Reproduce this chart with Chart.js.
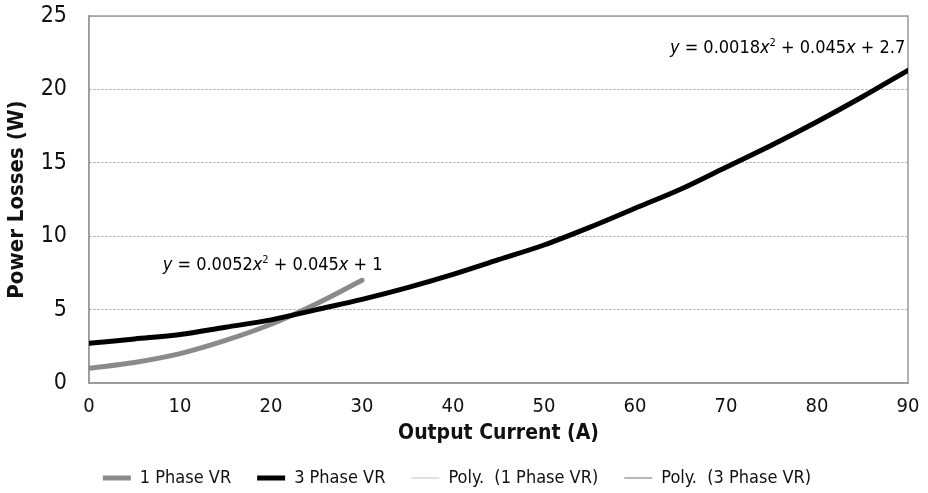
<!DOCTYPE html>
<html>
<head>
<meta charset="utf-8">
<script src="https://cdn.jsdelivr.net/npm/chart.js@4/dist/chart.umd.min.js"></script>
<style>
  html, body { margin: 0; padding: 0; background: #fff; }
  #wrap { width: 928px; height: 493px; position: relative; }
</style>
</head>
<body>
<div id="wrap"><canvas id="c" width="928" height="493"></canvas></div>
<script>
// ---- data ----
const current1 = [0, 5, 10, 15, 20, 25, 30];
const loss1Phase = [1.0, 1.4, 2.0, 2.9, 4.0, 5.4, 7.0];
const current3 = [0, 5, 10, 15, 20, 25, 30, 35, 40, 45, 50, 55, 60, 65, 70, 75, 80, 85, 90];
const loss3Phase = [2.7, 3.0, 3.3, 3.8, 4.3, 5.0, 5.7, 6.5, 7.4, 8.4, 9.4, 10.6, 11.9, 13.2, 14.7, 16.2, 17.8, 19.5, 21.3];
const seriesNames = ['1 Phase VR', '3 Phase VR', 'Poly.  (1 Phase VR)', 'Poly.  (3 Phase VR)'];
const xTicks = [0, 10, 20, 30, 40, 50, 60, 70, 80, 90];
const yTicks = [0, 5, 10, 15, 20, 25];
const eq1Text = ['y', ' = 0.0052', 'x', '2', ' + 0.045', 'x', ' + 1'];
const eq3Text = ['y', ' = 0.0018', 'x', '2', ' + 0.045', 'x', ' + 2.7'];

const FONT = "'Liberation Sans Narrow', 'DejaVu Sans Condensed', 'Roboto Condensed', Arial, sans-serif";

function pts(xs, ys) { return xs.map((x, i) => ({ x: x, y: ys[i] })); }

const boxPlugin = {
  id: 'box',
  beforeDatasetsDraw(chart) {
    const a = chart.chartArea, ctx = chart.ctx;
    ctx.save();
    ctx.strokeStyle = '#9a9a9a';
    ctx.lineWidth = 1.5;
    ctx.strokeRect(a.left, a.top, a.right - a.left, a.bottom - a.top);
    ctx.restore();
  }
};

function drawEq(ctx, parts, x, y, align) {
  const size = 18;
  const fonts = [
    'italic ' + size + 'px ' + FONT,
    size + 'px ' + FONT,
    'italic ' + size + 'px ' + FONT,
    Math.round(size * 0.6) + 'px ' + FONT,
    size + 'px ' + FONT,
    'italic ' + size + 'px ' + FONT,
    size + 'px ' + FONT
  ];
  let w = 0;
  const widths = parts.map((p, i) => { ctx.font = fonts[i]; const m = ctx.measureText(p).width; w += m; return m; });
  let cx = align === 'right' ? x - w : x;
  ctx.fillStyle = '#000';
  ctx.textBaseline = 'alphabetic';
  ctx.textAlign = 'left';
  parts.forEach((p, i) => {
    ctx.font = fonts[i];
    ctx.fillText(p, cx, i === 3 ? y - 7 : y);
    cx += widths[i];
  });
}

const eqPlugin = {
  id: 'eq',
  afterDatasetsDraw(chart) {
    const ctx = chart.ctx, xs = chart.scales.x, ys = chart.scales.y;
    ctx.save();
    drawEq(ctx, eq3Text, xs.getPixelForValue(89.7), ys.getPixelForValue(22.47), 'right');
    drawEq(ctx, eq1Text, xs.getPixelForValue(8.1), ys.getPixelForValue(7.72), 'left');
    ctx.restore();
  }
};

new Chart(document.getElementById('c'), {
  type: 'line',
  data: {
    datasets: [
      { label: seriesNames[0], data: pts(current1, loss1Phase), borderColor: '#8a8a8a', backgroundColor: '#8a8a8a',
        borderWidth: 5, pointRadius: 0, cubicInterpolationMode: 'monotone', borderCapStyle: 'round', order: 1, pointStyle: 'line' },
      { label: seriesNames[1], data: pts(current3, loss3Phase), borderColor: '#000', backgroundColor: '#000',
        borderWidth: 5, pointRadius: 0, cubicInterpolationMode: 'monotone', borderCapStyle: 'round', order: 0, pointStyle: 'line' },
      { label: seriesNames[2], data: pts(current1, loss1Phase), borderColor: '#c4c4c4', backgroundColor: '#c4c4c4',
        borderWidth: 1, pointRadius: 0, cubicInterpolationMode: 'monotone', order: 5, pointStyle: 'line' },
      { label: seriesNames[3], data: pts(current3, loss3Phase), borderColor: '#6e6e6e', backgroundColor: '#6e6e6e',
        borderWidth: 1, pointRadius: 0, cubicInterpolationMode: 'monotone', order: 6, pointStyle: 'line' }
    ]
  },
  options: {
    responsive: false,
    animation: false,
    devicePixelRatio: 1,
    layout: { padding: { top: 0, right: 14, left: 0, bottom: -4 } },
    plugins: {
      legend: {
        position: 'bottom',
        labels: {
          usePointStyle: true,
          pointStyleWidth: 28,
          boxHeight: 5,
          padding: 26,
          color: '#111',
          font: { family: FONT, size: 18 },
          sort: (a, b) => a.datasetIndex - b.datasetIndex
        }
      },
      tooltip: { enabled: false }
    },
    scales: {
      x: {
        type: 'linear', min: 0, max: 90,
        afterBuildTicks: s => { s.ticks = xTicks.map(v => ({ value: v })); },
        afterFit: s => { s.height = 60; s.paddingRight = 20; },
        grid: { display: false, drawTicks: false },
        border: { display: true, color: '#9a9a9a', width: 1.5 },
        ticks: { color: '#111', padding: 12, font: { family: FONT, size: 20 }, maxRotation: 0 },
        title: { display: true, text: 'Output Current (A)', color: '#111', padding: { top: 4, bottom: -3 }, font: { family: FONT, size: 21, weight: 'bold' } }
      },
      y: {
        min: 0, max: 25,
        afterBuildTicks: s => { s.ticks = yTicks.map(v => ({ value: v })); },
        afterFit: s => { s.width = 89; s.paddingTop = 16; },
        grid: { color: '#a0a0a0', drawTicks: false },
        border: { display: true, color: '#9a9a9a', width: 1.5, dash: [2, 2] },
        ticks: { color: '#111', padding: 22, font: { family: FONT, size: 23 } },
        title: { display: true, text: 'Power Losses (W)', color: '#111', padding: { bottom: 0 }, font: { family: FONT, size: 22, weight: 'bold' } }
      }
    }
  },
  plugins: [boxPlugin, eqPlugin]
});
</script>
</body>
</html>
